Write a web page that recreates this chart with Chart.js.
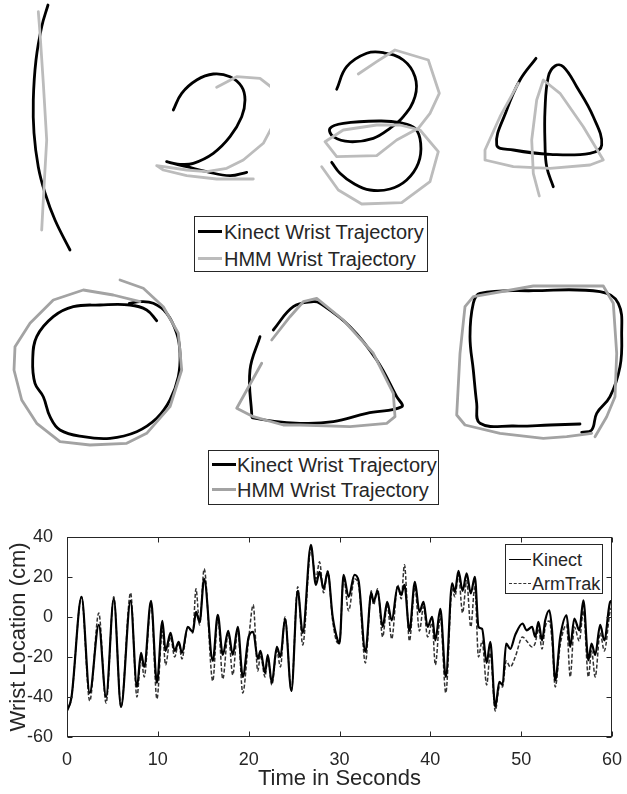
<!DOCTYPE html>
<html>
<head>
<meta charset="utf-8">
<script src="https://cdn.jsdelivr.net/npm/chart.js@4.4.1/dist/chart.umd.min.js"></script>
<style>
  html, body { margin: 0; padding: 0; background: #fff; }
  #fig { position: relative; width: 627px; height: 794px; background: #fff; overflow: hidden;
         font-family: "Liberation Sans", Arial, Helvetica, sans-serif; color: #262626; }
  #fig canvas { position: absolute; }
  .legend { position: absolute; background: #fff; border: 1px solid #262626; box-sizing: border-box; }
  .legend .row { position: absolute; left: 0; right: 0; height: 0; }
  .legend .swatch { position: absolute; top: 0; height: 0; }
  .legend .label { position: absolute; top: 0; transform: translateY(-50%); white-space: nowrap; line-height: 1; }
</style>
</head>
<body>
<div id="fig">
  <canvas id="g1"></canvas>
  <canvas id="g2"></canvas>
  <canvas id="g3"></canvas>
  <canvas id="g4"></canvas>
  <canvas id="g5"></canvas>
  <canvas id="g6"></canvas>
  <canvas id="g7"></canvas>
  <canvas id="ts"></canvas>
</div>
<script>
// ---------- Wrist trajectories (local units, y up) ----------
// Digit "1"
const oneKinect = [[28,250],[21.7,228.3],[16,195],[13.3,155],[14,122],[18.3,88],[25,62],[35,35],[50,5]];
const oneHmm = [[18.3,243.3],[20,222],[23.3,172],[26.7,115],[24,68],[21.7,25]];
// Digit "2"
const twoKinect = [[28.3,80],[36.7,96.7],[51.7,110],[68.3,116],[85,113.3],[96.7,103.3],[100,90],[96.7,73.3],[85,53.3],[68.3,36.7],[48.3,26.7],[35,25.7],[21.7,28.3],[41.7,23.3],[61.7,18.3],[85,14.3],[101.7,17.7]];
const twoHmm = [[71.7,102.7],[91.7,113.3],[115,111.7],[130,100],[130.7,70],[118.3,46.7],[98.3,30],[81.7,21.7],[61.7,18.3],[41.7,20],[11.7,24.3],[18.3,20],[41.7,14.3],[71.7,11],[108.3,11]];
// Digit "3"
const threeKinect = [[26.7,125.7],[36.7,148.3],[56.7,161.7],[73.3,162.3],[93.3,155],[105,138.3],[105,118.3],[93.3,98.3],[80,86.7],[63.3,76.7],[40,73.3],[23.3,78.3],[20,86.7],[33.3,91.7],[70,94],[90,92.3],[105,86.7],[110.7,71.7],[108.3,51.7],[96.7,35],[80,26],[60,25],[43.3,31.7],[30,41.7],[21.7,52.7]];
const threeHmm = [[48.3,141],[66.7,153.3],[85,165],[118.3,155],[129.3,121.7],[120,101.7],[108.3,86.7],[86.7,75],[66.7,59.3],[26.7,58.3],[15,73.3],[33.3,85],[66.7,90],[90,90],[110,85],[128.3,63.3],[120,33.3],[91.7,12.3],[51.7,11],[28.3,25],[11.7,48.3]];
// Digit "4"
const fourKinect = [[61,146.7],[45,125],[31.7,95],[21.7,60],[38.3,55],[75,50.7],[115,51.7],[126.7,60],[118.3,88.3],[101.7,118.3],[88.3,138.3],[80,139],[73.3,128.3],[70,95],[70,61.7],[71.7,38.3],[78.3,18.3]];
const fourHmm = [[43.3,121.7],[25,88.3],[10,55],[10,45],[38.3,38.3],[75,36.7],[115,40],[128.3,45],[108.3,78.3],[85,111.7],[68.3,125],[61.7,105],[56.7,65],[58.3,31.7],[64.3,9]];
// Circle
const circleKinect = [[151.7,131.3],[141.7,142],[125,147],[95,147],[68.3,145.3],[48.3,135.3],[31.7,115.3],[27.7,92],[30,68.7],[38.3,55.3],[45,35.3],[55,22],[78.3,15.3],[105,13.7],[131.7,20.3],[151.7,33.7],[165,52],[173.3,75.3],[175,98.7],[171.7,118.7],[161.7,138.7],[148.3,148.7],[135,150.3],[124.3,148.7]];
const circleHmm = [[115,172],[138.3,163.7],[158.3,145.3],[173.3,118.7],[176.7,82],[165,45.3],[141.7,18.7],[121.7,8.7],[85,7],[55,10.3],[31.7,28.7],[16.7,52],[9,82],[10,105.3],[25,128.7],[48.3,152],[78.3,162],[108.3,157],[135,150.3]];
// Triangle
const triangleKinect = [[35,98.3],[25,65],[26.7,21.7],[28,17],[75,11.7],[108.3,13.3],[141.7,21.7],[176.7,28.3],[171.7,38.3],[151.7,75],[125,108.3],[95,131.7],[88.3,133.3],[68.3,128.3],[48.3,105]];
const triangleHmm = [[36.7,71.7],[11.7,26.7],[28.3,18.3],[58.3,10],[75,10],[125,8.3],[161.7,11.7],[170,18.3],[168.3,41.7],[148.3,81.7],[118.3,115],[91.7,136.7],[78.3,133.3],[65,118.3],[46.7,95]];
// Square
const squareKinect = [[132,22],[102,21],[65.3,20],[32,22.7],[28.7,42.7],[25.3,76],[22,109.3],[25.3,142.7],[32,152.7],[85.3,155.3],[152,154.3],[170.3,142.7],[173.7,109.3],[172,79.3],[162,49.3],[148.7,32.7],[143.7,16],[133.7,13.7]];
const squareHmm = [[147,9.3],[158.7,29.3],[167,49.3],[168.7,92.7],[165.3,142.7],[155.3,160],[85.3,160],[25.3,149.3],[17,139.3],[12,92.7],[8.7,31],[17,21],[52,12.7],[95.3,7.7],[118.7,9.3],[143.7,12.7]];

// ---------- Wrist location over time ----------
const timeSec = [
  0,0.5,1.6,2.5,3.5,4.3,5.15,5.95,7.0,7.7,
  8.15,8.5,9.25,9.9,10.5,10.85,11.4,11.85,12.3,12.65,
  13.3,13.85,14.2,14.6,15.1,16.05,16.6,17.15,17.75,18.25,
  18.8,19.35,20.0,20.5,21.0,21.3,21.8,22.1,22.55,23.1,
  23.5,24.0,24.7,25.4,25.95,26.85,27.4,27.8,28.25,28.7,
  29.25,29.8,30.0,30.45,31.0,31.65,32.1,32.85,33.5,33.75,
  34.2,34.75,35.25,35.75,36.4,36.8,37.15,37.7,38.3,38.8,
  39.25,39.7,40.2,40.55,41.1,41.7,42.4,42.7,43.1,43.55,
  44.0,44.45,44.9,45.3,45.7,46.2,46.6,47.15,47.6,47.95,
  48.35,48.8,49.35,50.15,50.6,51.2,51.55,51.9,52.3,52.65,
  53.1,53.4,53.75,54.3,55.0,55.4,55.85,56.4,56.85,57.4,
  57.75,58.15,58.7,59.15,59.8,60
];
const kinectCm = [
  -47,-40,10,-38,-4,-40,9,-45,8,-35,
  -18,-25,8,-33,-2,-17,-8,-17,-12.5,-18,
  -5,-7.5,2.5,-2.5,19,-22,1,-19,-7,-19,
  -5,-30,-10,-7.5,-21,-17,-28,-19,-33,-15,
  -20,-1,-37,13,-8,36,16,22.5,14,22.5,
  0,-11.7,-13.3,21,10,21,18,-17.5,12,7.5,
  13,-5,7.5,-1.7,15,11,16,-7,17.5,2.5,
  7.5,-5,0,-11.7,4,-30,16.7,12.5,23,13,
  21.7,11.7,20,-5,-6,-23,-12.5,-45,-32.5,-34,
  -13.3,-16,-9,-3.3,-6.7,-5,-10,-2.5,-11.7,-1.7,
  3.3,-6.7,-31.7,-10,0.8,-15,-0.8,-6.7,8.3,-21.7,
  -13.3,-19,-4,-11.7,7.5,8
];
const armTrakCm = [
  -47,-40,10,-42,2,-43,10,-45,12,-40,
  -20,-30,7,-41,-7,-24,-10,-20,-13,-21,
  -5,-8,14,-4,24,-32,0,-31,-8,-29,
  -6,-38,-11,6,-27,-19,-30,-20,-34,-17,
  -25,0,-37,15,-14,34,19,27.5,12,23,
  -2,-13,-13,20,3,19,16,-23,13,6,
  14,-10,6,-11,16,9,26,-12,15,-7,
  5,-10,-3,-24,0,-38,14,10,21,2,
  18,-5,15,-20,-12,-34,-18,-47,-35,-35,
  -22,-25,-20,-10,-12,-15,-13,-6,-16,-5,
  -2,-12,-35,-14,-4,-30,-5,-12,3,-30,
  -17,-30,-8,-17,3,5
];
const xTicks = [0, 10, 20, 30, 40, 50, 60];
const yTicks = [-60, -40, -20, 0, 20, 40];

const legendNames = ['Kinect Wrist Trajectory', 'HMM Wrist Trajectory'];
const seriesNames = ['Kinect', 'ArmTrak'];

const FONT = '"Liberation Sans", Arial, Helvetica, sans-serif';
const INK = '#262626';
Chart.defaults.font.family = FONT;
Chart.defaults.color = INK;

const toPts = arr => arr.map(([x, y]) => ({ x, y }));

// One small chart per gesture; axes hidden, one unit per pixel.
function gesture(id, box, kinect, hmm, hmmColor) {
  const cv = document.getElementById(id);
  cv.width = box.w; cv.height = box.h;
  cv.style.left = box.left + 'px'; cv.style.top = box.top + 'px';
  const line = { showLine: true, pointRadius: 0, borderWidth: 2.8, clip: false,
                 borderJoinStyle: 'round', borderCapStyle: 'round', fill: false };
  new Chart(cv, {
    type: 'scatter',
    data: { datasets: [
      Object.assign({ data: toPts(hmm), borderColor: hmmColor, tension: 0 }, line),
      Object.assign({ data: toPts(kinect), borderColor: '#000', tension: 0.4 }, line)
    ] },
    options: {
      responsive: false, animation: false, devicePixelRatio: 1, events: [],
      layout: { padding: 0 },
      plugins: { legend: { display: false }, tooltip: { enabled: false } },
      scales: {
        x: { type: 'linear', display: false, min: 0, max: box.w },
        y: { type: 'linear', display: false, min: 0, max: box.h }
      }
    }
  });
}

const HMM_LIGHT = '#bcbcbc';
const HMM_MID = '#a3a3a3';
gesture('g1', { left: 20,  top: 0,   w: 70,  h: 255 }, oneKinect, oneHmm, HMM_LIGHT);
gesture('g2', { left: 145, top: 60,  w: 125, h: 130 }, twoKinect, twoHmm, HMM_LIGHT);
gesture('g3', { left: 310, top: 40,  w: 140, h: 175 }, threeKinect, threeHmm, HMM_LIGHT);
gesture('g4', { left: 475, top: 45,  w: 140, h: 160 }, fourKinect, fourHmm, HMM_LIGHT);
gesture('g5', { left: 5,   top: 272, w: 185, h: 180 }, circleKinect, circleHmm, HMM_MID);
gesture('g6', { left: 225, top: 290, w: 185, h: 145 }, triangleKinect, triangleHmm, HMM_MID);
gesture('g7', { left: 448, top: 278, w: 178, h: 168 }, squareKinect, squareHmm, HMM_MID);

// Boxed legends
function legend(box, rows, fontPx) {
  const d = document.createElement('div');
  d.className = 'legend';
  Object.assign(d.style, { left: box.left + 'px', top: box.top + 'px', width: box.w + 'px', height: box.h + 'px' });
  rows.forEach(r => {
    const row = document.createElement('div');
    row.className = 'row';
    row.style.top = r.y + 'px';
    const sw = document.createElement('div');
    sw.className = 'swatch';
    Object.assign(sw.style, { left: box.sx + 'px', width: box.sw + 'px',
      borderTop: r.width + 'px ' + (r.dash ? 'dashed ' : 'solid ') + r.color,
      marginTop: (-r.width / 2) + 'px' });
    const tx = document.createElement('div');
    tx.className = 'label';
    tx.textContent = r.text;
    Object.assign(tx.style, { left: box.tx + 'px', fontSize: fontPx + 'px' });
    row.appendChild(sw); row.appendChild(tx);
    d.appendChild(row);
  });
  document.getElementById('fig').appendChild(d);
}
legend({ left: 194, top: 216, w: 234, h: 56, sx: 3, sw: 24, tx: 29 },
  [{ y: 14.5, text: legendNames[0], color: '#000', width: 3 },
   { y: 41.5, text: legendNames[1], color: HMM_LIGHT, width: 3 }], 20);
legend({ left: 208, top: 450, w: 231, h: 55, sx: 3, sw: 24, tx: 28 },
  [{ y: 13.5, text: legendNames[0], color: '#000', width: 3 },
   { y: 38.5, text: legendNames[1], color: HMM_MID, width: 3 }], 20);

// ---------- Time series panel ----------
const frame = {
  id: 'frame',
  afterDatasetsDraw(chart) {
    const { ctx, chartArea: a, scales: { x, y } } = chart;
    const L = Math.round(a.left) + 0.5, R = Math.round(a.right) - 0.5;
    const T = Math.round(a.top) + 0.5, B = Math.round(a.bottom) - 0.5;
    ctx.save();
    ctx.strokeStyle = INK; ctx.lineWidth = 1;
    ctx.strokeRect(L, T, R - L, B - T);
    ctx.beginPath();
    xTicks.forEach(v => {
      const px = Math.round(x.getPixelForValue(v)) + 0.5;
      ctx.moveTo(px, B); ctx.lineTo(px, B - 5);
      ctx.moveTo(px, T); ctx.lineTo(px, T + 5);
    });
    yTicks.forEach(v => {
      const py = Math.round(y.getPixelForValue(v)) + 0.5;
      ctx.moveTo(L, py); ctx.lineTo(L + 5, py);
      ctx.moveTo(R, py); ctx.lineTo(R - 5, py);
    });
    ctx.stroke();
    ctx.restore();
  }
};

const ts = document.getElementById('ts');
ts.width = 627; ts.height = 274;
ts.style.left = '0px'; ts.style.top = '520px';
new Chart(ts, {
  type: 'line',
  data: {
    datasets: [
      { label: seriesNames[0], data: timeSec.map((t, i) => ({ x: t, y: kinectCm[i] })),
        borderColor: '#000', borderWidth: 2.2, pointRadius: 0, cubicInterpolationMode: 'monotone', fill: false },
      { label: seriesNames[1], data: timeSec.map((t, i) => ({ x: t, y: armTrakCm[i] })),
        borderColor: '#333', borderWidth: 1.5, borderDash: [4, 2], pointRadius: 0,
        cubicInterpolationMode: 'monotone', fill: false }
    ]
  },
  options: {
    responsive: false, animation: false, devicePixelRatio: 1, events: [],
    layout: { padding: { top: 16, right: 15, left: 0, bottom: 0 } },
    plugins: { legend: { display: false }, tooltip: { enabled: false } },
    scales: {
      x: {
        type: 'linear', min: 0, max: 60,
        afterBuildTicks: s => { s.ticks = xTicks.map(v => ({ value: v })); },
        afterFit: s => { s.height = 57; },
        grid: { display: false }, border: { display: false },
        ticks: { padding: 4, color: INK, font: { size: 18 } },
        title: { display: true, text: 'Time in Seconds', color: INK, font: { size: 22 }, padding: { top: 0, bottom: 2 } }
      },
      y: {
        type: 'linear', min: -60, max: 40,
        afterBuildTicks: s => { s.ticks = yTicks.map(v => ({ value: v })); },
        afterFit: s => { s.width = 67; },
        grid: { display: false }, border: { display: false },
        ticks: { padding: 6, color: INK, font: { size: 18 } },
        title: { display: true, text: 'Wrist Location (cm)', color: INK, font: { size: 22 }, padding: { top: 6, bottom: 0 } }
      }
    }
  },
  plugins: [frame]
});

legend({ left: 505, top: 544, w: 98, h: 50, sx: 3, sw: 22, tx: 26 },
  [{ y: 15, text: seriesNames[0], color: '#000', width: 1.5 },
   { y: 39, text: seriesNames[1], color: '#333', width: 1.3, dash: true }], 18);
</script>
</body>
</html>
